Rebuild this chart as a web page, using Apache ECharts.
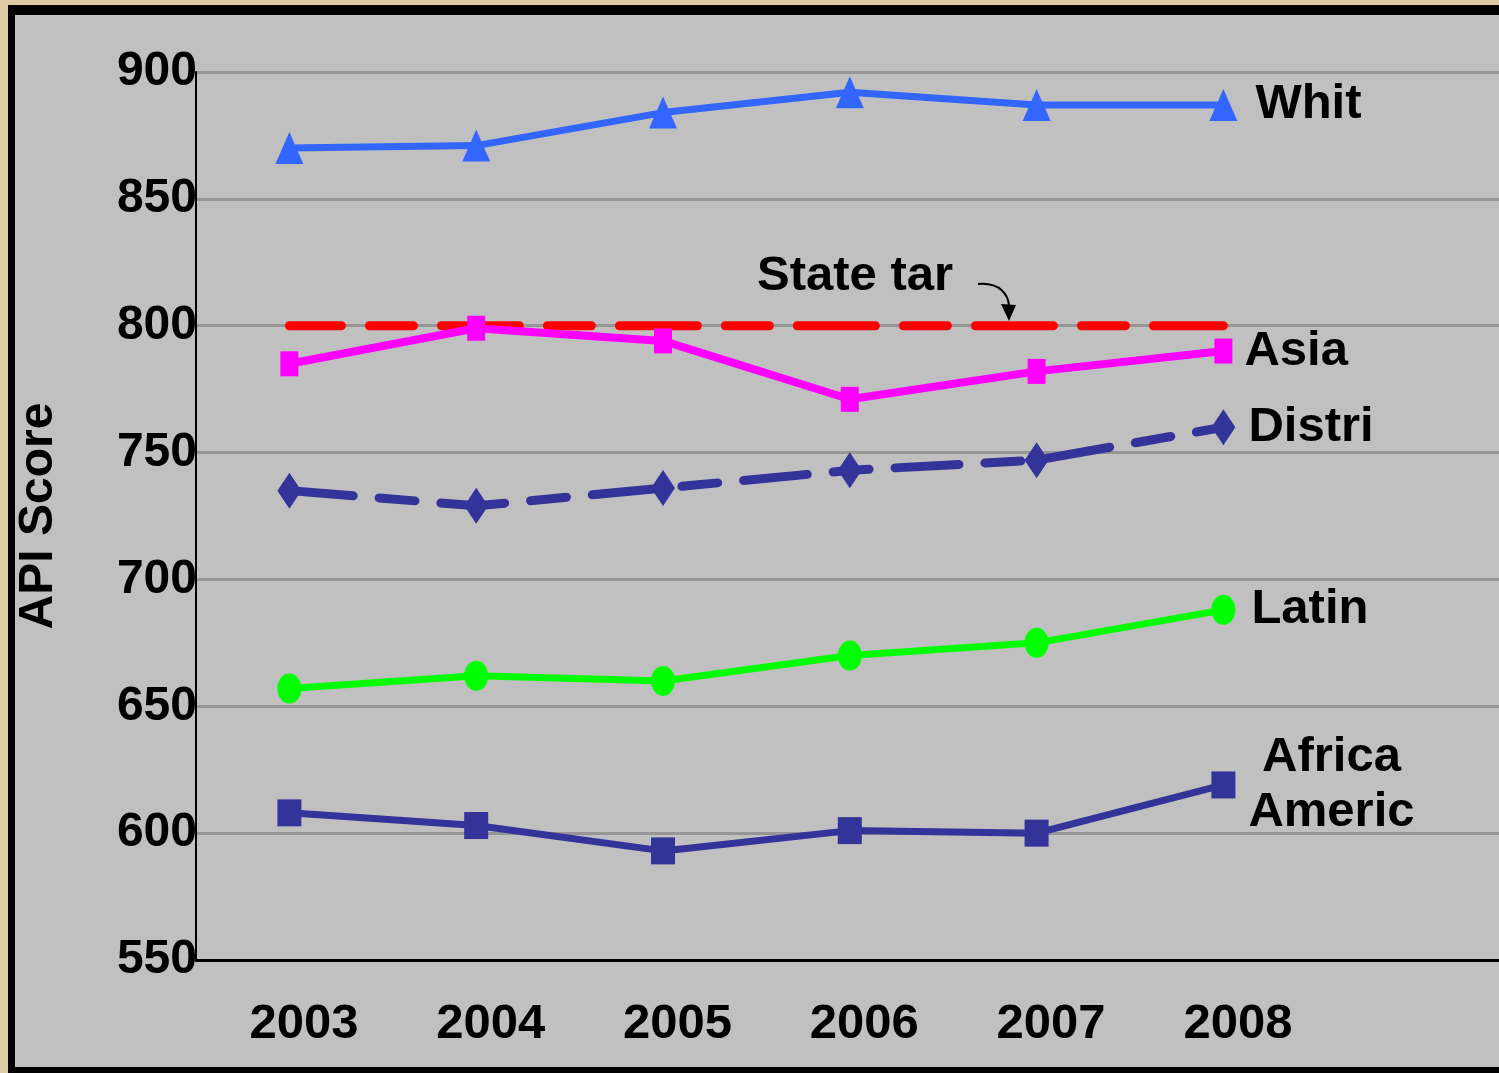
<!DOCTYPE html>
<html>
<head>
<meta charset="utf-8">
<script src="https://cdn.jsdelivr.net/npm/echarts@6/dist/echarts.min.js"></script>
<style>
  html, body { margin: 0; padding: 0; background: #DFCBA6; width: 1499px; height: 1073px; overflow: hidden; }
  #chart { position: absolute; left: 8px; top: 5px; width: 1484px; height: 1052px;
           border-top: 10px solid #000; border-left: 7px solid #000; border-bottom: 6px solid #000;
           background: #C0C0C0; }
</style>
</head>
<body>
<div id="chart"></div>
<script>
// ---- data ----
const years = ['2003', '2004', '2005', '2006', '2007', '2008'];
const xCategories = years.concat(['']);
const white = [870, 871, 884, 892, 887, 887];
const asian = [785, 799, 794, 771, 782, 790];
const district = [735, 729, 736, 743, 747, 760];
const latino = [657, 662, 660, 670, 675, 688];
const africanAmerican = [608, 603, 593, 601, 600, 619];
const stateTarget = [800, 800, 800, 800, 800, 800];
const yMin = 550, yMax = 900, yStep = 50;
const yAxisTitle = 'API Score';
const targetText = 'State target';

const FONT = '"Liberation Sans", Arial, Helvetica, sans-serif';
const chart = echarts.init(document.getElementById('chart'), null, { renderer: 'canvas' });

function endLabel(text, distance, width, shiftUp, extra) {
  return Object.assign({
    show: true,
    formatter: text,
    color: '#000',
    fontSize: 49,
    fontWeight: 'bold',
    fontFamily: FONT,
    distance: distance,
    width: width,
    overflow: 'truncate',
    ellipsis: '',
    padding: shiftUp >= 0 ? [0, 0, 2 * shiftUp, 0] : [-2 * shiftUp, 0, 0, 0]
  }, extra || {});
}

const option = {
  animation: false,
  backgroundColor: 'transparent',
  grid: { left: 181, top: 57, width: 1307.6, height: 888, containLabel: false, outerBoundsMode: 'none' },
  xAxis: {
    type: 'category',
    data: xCategories,
    boundaryGap: true,
    axisLine: { show: true, lineStyle: { color: '#000', width: 3 } },
    axisTick: { show: false },
    splitLine: { show: false },
    axisLabel: {
      show: true, interval: 0, color: '#000', fontSize: 49, fontWeight: 'bold',
      fontFamily: FONT, margin: 40, padding: [0, 0, 0, 29]
    }
  },
  yAxis: {
    type: 'value',
    min: yMin, max: yMax, interval: yStep,
    name: yAxisTitle,
    nameLocation: 'middle',
    nameGap: 133,
    nameTextStyle: { color: '#000', fontSize: 48, fontWeight: 'bold', fontFamily: FONT },
    axisLine: { show: true, lineStyle: { color: '#000', width: 2 } },
    axisTick: { show: false },
    splitLine: { show: true, lineStyle: { color: '#969696', width: 3 } },
    axisLabel: { color: '#000', fontSize: 48, fontWeight: 'bold', fontFamily: FONT, margin: -1 }
  },
  series: [
    {
      name: 'State target', type: 'line', data: stateTarget, symbol: 'none',
      lineStyle: { color: '#FF0000', width: 9, type: [78, 28, 44, 28], dashOffset: 26, cap: 'round' },
      z: 3
    },
    {
      name: 'White', type: 'line', data: white,
      symbol: 'triangle', symbolSize: [28, 32],
      itemStyle: { color: '#3366FF' },
      lineStyle: { color: '#3366FF', width: 7 },
      endLabel: endLabel('White', 32, 115, 4),
      z: 4
    },
    {
      name: 'Asian', type: 'line', data: asian,
      symbol: 'rect', symbolSize: [18, 25],
      itemStyle: { color: '#FF00FF' },
      lineStyle: { color: '#FF00FF', width: 8 },
      endLabel: endLabel('Asian', 21, 115, 7),
      z: 4
    },
    {
      name: 'District', type: 'line', data: district,
      symbol: 'diamond', symbolSize: [24, 36],
      itemStyle: { color: '#333399' },
      lineStyle: { color: '#333399', width: 9, type: [64, 26, 36, 26], cap: 'round' },
      endLabel: endLabel('District', 25, 140, 1),
      z: 4
    },
    {
      name: 'Latino', type: 'line', data: latino,
      symbol: 'circle', symbolSize: [24, 30],
      itemStyle: { color: '#00FF00' },
      lineStyle: { color: '#00FF00', width: 7 },
      endLabel: endLabel('Latino', 28, 120, 3),
      z: 4
    },
    {
      name: 'African American', type: 'line', data: africanAmerican,
      symbol: 'rect', symbolSize: [24, 27],
      itemStyle: { color: '#333399' },
      lineStyle: { color: '#333399', width: 7 },
      endLabel: endLabel(' African\nAmerican', 25, 173, 1, { lineHeight: 55 }),
      z: 4
    }
  ],
  graphic: [
    {
      type: 'text', z: 10,
      style: {
        text: targetText, x: 742, y: 261, fill: '#000',
        font: 'bold 49px ' + FONT, verticalAlign: 'middle',
        width: 210, overflow: 'truncate', ellipsis: ''
      }
    },
    {
      type: 'bezierCurve', z: 10,
      shape: { x1: 963, y1: 269, cpx1: 985, cpy1: 267, cpx2: 994, cpy2: 280, x2: 994, y2: 292 },
      style: { stroke: '#000', lineWidth: 2, fill: null }
    },
    {
      type: 'polygon', z: 10,
      shape: { points: [[986, 289], [1001, 290], [994, 306]] },
      style: { fill: '#000' }
    }
  ]
};
chart.setOption(option);
</script>
</body>
</html>
